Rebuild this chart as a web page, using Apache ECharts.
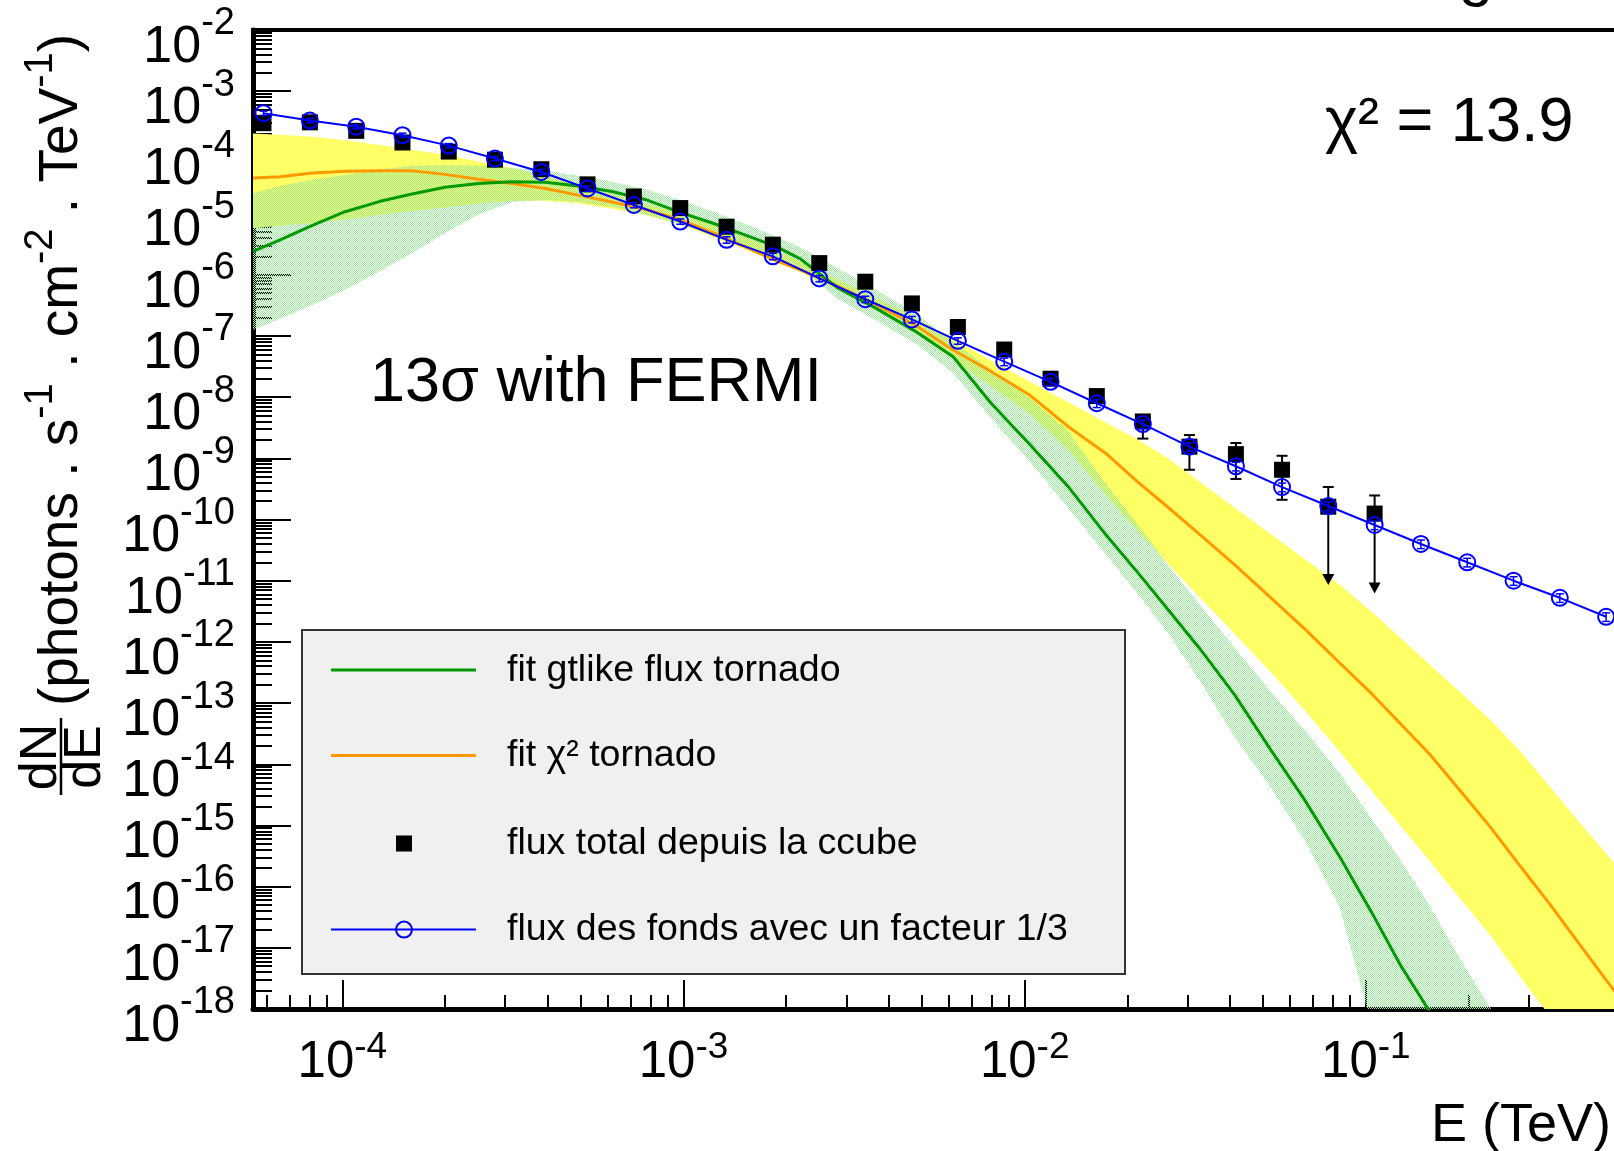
<!DOCTYPE html>
<html><head><meta charset="utf-8">
<script src="https://cdn.jsdelivr.net/npm/echarts@6/dist/echarts.min.js"></script>
<style>html,body{margin:0;padding:0;background:#fff;}#c{width:1614px;height:1151px;}</style>
</head><body><div id="c"></div>
<script>
// ---------------- data ----------------
const pointE = [5.87e-5, 8.03e-5, 1.098e-4, 1.500e-4, 2.05e-4, 2.80e-4, 3.83e-4, 5.23e-4, 7.15e-4, 9.78e-4,
  1.337e-3, 1.827e-3, 2.50e-3, 3.41e-3, 4.67e-3, 6.37e-3, 8.71e-3, 1.191e-2, 1.627e-2, 2.22e-2,
  3.04e-2, 4.16e-2, 5.68e-2, 7.76e-2, 0.1061, 0.1450, 0.1982, 0.2710, 0.3703, 0.5062];
const bkgFlux = [4.37e-4, 3.31e-4, 2.63e-4, 1.91e-4, 1.29e-4, 7.94e-5, 4.79e-5, 2.57e-5, 1.38e-5, 7.41e-6,
  3.72e-6, 2.00e-6, 8.71e-7, 3.98e-7, 1.86e-7, 8.32e-8, 3.80e-8, 1.78e-8, 7.94e-9, 3.63e-9,
  1.55e-9, 7.41e-10, 3.39e-10, 1.66e-10, 8.13e-11, 3.98e-11, 2.00e-11, 1.00e-11, 5.25e-12, 2.57e-12];
const bkgRelErr = [0.08, 0.08, 0.08, 0.08, 0.08, 0.08, 0.1, 0.1, 0.1, 0.1,
  0.12, 0.12, 0.12, 0.12, 0.12, 0.12, 0.14, 0.14, 0.15, 0.16,
  0.16, 0.16, 0.16, 0.16, 0.16, 0.16, 0.16, 0.16, 0.16, 0.16];
const totalFlux = [3.0e-4, 3.1e-4, 2.25e-4, 1.45e-4, 1.03e-4, 7.6e-5, 5.3e-5, 3.0e-5, 1.9e-5, 1.23e-5,
  6.1e-6, 3.1e-6, 1.55e-6, 7.7e-7, 3.4e-7, 1.40e-7, 6.0e-8, 2.0e-8, 1.04e-8, 4.0e-9,
  1.55e-9, 1.17e-9, 6.5e-10, 1.62e-10, 1.25e-10];
const totalErrHi = [null, null, null, null, null, null, null, null, null, null,
  null, null, null, null, null, null, null, null, null, 4.8e-9,
  2.4e-9, 1.78e-9, 1.1e-9, 3.4e-10, 2.47e-10];
const totalErrLo = [null, null, null, null, null, null, null, null, null, null,
  null, null, null, null, null, null, null, null, null, 2.1e-9,
  6.5e-10, 4.6e-10, 2.1e-10, 8.5e-12, 6.2e-12];
const totalUpperLimit = [false, false, false, false, false, false, false, false, false, false,
  false, false, false, false, false, false, false, false, false, false,
  false, false, false, true, true];

const curveE = [5.47e-5, 6.57e-5, 8.04e-5, 1.018e-4, 1.29e-4, 1.60e-4, 2.00e-4, 2.50e-4, 3.14e-4, 3.93e-4,
  4.91e-4, 6.17e-4, 7.72e-4, 9.77e-4, 1.238e-3, 1.568e-3, 1.87e-3, 2.20e-3, 2.84e-3, 3.67e-3,
  4.77e-3, 6.17e-3, 7.97e-3, 1.037e-2, 1.34e-2, 1.73e-2, 2.14e-2, 2.63e-2, 3.27e-2, 4.13e-2,
  5.24e-2, 6.63e-2, 8.40e-2, 0.1042, 0.1259, 0.1542, 0.1888, 0.2312, 0.2830, 0.3466,
  0.4243, 0.534, 0.68];
const gtlikeFit = [2.40e-6, 3.72e-6, 6.17e-6, 1.072e-5, 1.585e-5, 2.09e-5, 2.69e-5, 3.09e-5, 3.31e-5, 3.24e-5,
  2.82e-5, 2.29e-5, 1.70e-5, 1.047e-5, 6.76e-6, 4.17e-6, 2.88e-6, 1.82e-6, 6.03e-7, 2.82e-7,
  1.20e-7, 4.57e-8, 7.94e-9, 1.66e-9, 3.47e-10, 5.62e-11, 1.38e-11, 3.39e-12, 7.59e-13, 1.35e-13,
  1.78e-14, 2.57e-15, 3.02e-16, 3.72e-17, 5.37e-18, 8.9e-19, null, null, null, null,
  null, null, null];
const gtlikeBandHi = [2.14e-5, 2.82e-5, 3.55e-5, 4.27e-5, 5.25e-5, 6.03e-5, 6.17e-5, 6.03e-5, 5.62e-5, 5.01e-5,
  4.17e-5, 3.31e-5, 2.51e-5, 1.66e-5, 1.047e-5, 6.31e-6, 4.17e-6, 2.82e-6, 1.26e-6, 5.62e-7,
  2.40e-7, 7.94e-8, 2.82e-8, 9.55e-9, 2.82e-9, 3.80e-10, 8.51e-11, 1.78e-11, 3.98e-12, 7.94e-13,
  1.585e-13, 3.55e-14, 7.08e-15, 1.26e-15, 2.82e-16, 4.79e-17, 6.61e-18, 1.07e-18, 1.26e-19, null,
  null, null, null];
const gtlikeBandLo = [1.26e-7, 1.905e-7, 3.09e-7, 5.62e-7, 1.148e-6, 2.24e-6, 4.79e-6, 9.55e-6, 1.55e-5, 1.66e-5,
  1.55e-5, 1.29e-5, 9.55e-6, 6.61e-6, 4.37e-6, 2.75e-6, 1.905e-6, 1.26e-6, 3.98e-7, 1.78e-7,
  7.59e-8, 2.51e-8, 4.47e-9, 8.71e-10, 1.55e-10, 2.69e-11, 6.17e-12, 1.38e-12, 2.24e-13, 2.75e-14,
  4.27e-15, 5.62e-16, 4.47e-17, 5.0e-19, null, null, null, null, null, null,
  null, null, null];
const chi2Fit = [3.80e-5, 3.98e-5, 4.57e-5, 4.90e-5, 5.01e-5, 5.01e-5, 4.37e-5, 3.63e-5, 3.09e-5, 2.57e-5,
  2.00e-5, 1.55e-5, 1.175e-5, 7.94e-6, 4.68e-6, 2.63e-6, 1.70e-6, 1.20e-6, 6.46e-7, 3.24e-7,
  1.51e-7, 5.89e-8, 2.63e-8, 1.07e-8, 3.31e-9, 1.20e-9, 4.17e-10, 1.585e-10, 5.62e-11, 1.82e-11,
  5.37e-12, 1.62e-12, 4.47e-13, 1.41e-13, 4.68e-14, 1.445e-14, 3.72e-15, 9.55e-16, 2.19e-16, 5.13e-17,
  1.12e-17, 2.0e-18, 4.0e-19];
const chi2BandHi = [2.04e-4, 1.95e-4, 1.82e-4, 1.585e-4, 1.32e-4, 1.10e-4, 9.12e-5, 7.08e-5, 5.50e-5, 4.07e-5,
  2.95e-5, 2.09e-5, 1.48e-5, 1.02e-5, 6.31e-6, 3.80e-6, 2.51e-6, 1.66e-6, 8.32e-7, 4.17e-7,
  2.00e-7, 8.91e-8, 3.98e-8, 1.78e-8, 8.32e-9, 3.80e-9, 2.04e-9, 1.00e-9, 4.07e-10, 1.55e-10,
  5.89e-11, 2.24e-11, 8.51e-12, 3.09e-12, 1.175e-12, 4.17e-13, 1.51e-13, 5.37e-14, 1.66e-14, 4.27e-15,
  1.10e-15, 2.45e-16, 5.01e-17];
const chi2BandLo = [5.75e-6, 6.31e-6, 6.92e-6, 7.94e-6, 9.55e-6, 1.10e-5, 1.26e-5, 1.445e-5, 1.62e-5, 1.62e-5,
  1.48e-5, 1.20e-5, 9.55e-6, 6.61e-6, 3.98e-6, 2.40e-6, 1.585e-6, 1.10e-6, 5.62e-7, 2.63e-7,
  1.12e-7, 4.17e-8, 1.51e-8, 5.25e-9, 1.41e-9, 2.51e-10, 6.61e-11, 1.905e-11, 5.25e-12, 1.35e-12,
  3.31e-13, 7.59e-14, 1.585e-14, 3.63e-15, 1.02e-15, 2.57e-16, 6.46e-17, 1.62e-17, 3.39e-18, 7.6e-19,
  1.6e-19, 3.2e-20, 6.3e-21];

const xLabelValues = [1e-4, 1e-3, 1e-2, 1e-1];
const yLabelValuesEven = [1e-18, 1e-16, 1e-14, 1e-12, 1e-10, 1e-8, 1e-6, 1e-4, 1e-2];
const yLabelValuesOdd = [1e-17, 1e-15, 1e-13, 1e-11, 1e-9, 1e-7, 1e-5, 1e-3];
const X_MIN = 5.47e-5, X_MAX = 1.0, Y_MIN = 1e-18, Y_MAX = 1e-2;

// ---------------- helpers ----------------
const FONT = '"Liberation Sans", Arial, Helvetica, sans-serif';
const xMajor = [1e-4, 1e-3, 1e-2, 1e-1, 1];
const yMajor = yLabelValuesEven.concat(yLabelValuesOdd);
const xMinor = [];
for (let d = -5; d <= -1; d++) for (let k = 2; k <= 9; k++) { const v = k * Math.pow(10, d); if (v > X_MIN && v < X_MAX) xMinor.push(v); }
const yMinor = [];
for (let d = -18; d <= -3; d++) for (let k = 2; k <= 9; k++) yMinor.push(k * Math.pow(10, d));

function expLabel(v) { return '{b|10}{s|' + Math.round(Math.log10(v)) + '}'; }
function richFor(bSize, sSize, bPad, sPad, lh) {
  const b = { fontSize: bSize, fontFamily: FONT, color: '#000', padding: [bPad, 0, 0, 0], verticalAlign: 'middle' };
  const s = { fontSize: sSize, fontFamily: FONT, color: '#000', padding: [0, 0, sPad, 0], verticalAlign: 'middle' };
  if (lh) { b.lineHeight = lh; s.lineHeight = lh; }
  return { b: b, s: s };
}
const yRich = richFor(52, 38, 35, 12, 40);

// green dotted pattern
const pat = document.createElement('canvas');
pat.width = 2; pat.height = 2;
(function () { const c = pat.getContext('2d'); c.fillStyle = 'rgb(150,236,150)'; c.fillRect(0, 0, 1, 1); c.fillRect(1, 1, 1, 1); })();

function bandSeries(name, hi, lo, fill, z) {
  return {
    type: 'custom', name: name, z: z, silent: true, clip: true,
    xAxisIndex: 0, yAxisIndex: 0,
    data: [[curveE[0], hi[0]]],
    renderItem: function (params, api) {
      const pts = [];
      for (let i = 0; i < curveE.length; i++) if (hi[i] != null) pts.push(api.coord([curveE[i], hi[i]]));
      for (let i = curveE.length - 1; i >= 0; i--) if (lo[i] != null) pts.push(api.coord([curveE[i], lo[i]]));
      const cs = params.coordSys;
      return {
        type: 'polygon', shape: { points: pts }, style: { fill: fill, stroke: null, lineWidth: 0 },
        clipPath: { type: 'rect', shape: { x: cs.x, y: cs.y, width: cs.width, height: cs.height } }
      };
    }
  };
}

const totalErrData = [];
for (let i = 0; i < totalFlux.length; i++) if (totalErrHi[i] != null) totalErrData.push([pointE[i], totalErrHi[i], totalErrLo[i], totalUpperLimit[i] ? 1 : 0]);
const bkgErrData = bkgFlux.map((v, i) => [pointE[i], v * (1 + bkgRelErr[i]), v * (1 - bkgRelErr[i]), 0]);

function errRender(color, cap, lw) {
  return function (params, api) {
    const e = api.value(0), hi = api.value(1), lo = api.value(2), lim = api.value(3);
    const t = api.coord([e, hi]), b = api.coord([e, lo]);
    const x = t[0];
    const ch = [];
    const yEnd = lim ? b[1] - 10 : b[1];
    ch.push({ type: 'line', shape: { x1: x, y1: t[1], x2: x, y2: yEnd }, style: { stroke: color, lineWidth: lw } });
    ch.push({ type: 'line', shape: { x1: x - cap, y1: t[1], x2: x + cap, y2: t[1] }, style: { stroke: color, lineWidth: lw } });
    if (lim) {
      ch.push({ type: 'polygon', shape: { points: [[x - 6, b[1] - 11], [x + 6, b[1] - 11], [x, b[1]]] }, style: { fill: color } });
    } else {
      ch.push({ type: 'line', shape: { x1: x - cap, y1: b[1], x2: x + cap, y2: b[1] }, style: { stroke: color, lineWidth: lw } });
    }
    return { type: 'group', children: ch };
  };
}

// ---------------- chart ----------------
const chart = echarts.init(document.getElementById('c'), null, { renderer: 'canvas' });
const gridPos = { left: 253, top: 30, right: -93, bottom: 142 };
const option = {
  animation: false,
  backgroundColor: '#ffffff',
  textStyle: { fontFamily: FONT },
  grid: [
    Object.assign({ show: true, borderColor: '#000', borderWidth: 4, backgroundColor: 'transparent', containLabel: false, outerBoundsMode: 'none' }, gridPos),
    Object.assign({ show: false, containLabel: false, outerBoundsMode: 'none' }, gridPos)
  ],
  xAxis: [
    {
      type: 'log', logBase: 10, gridIndex: 0, min: X_MIN, max: X_MAX, position: 'bottom',
      axisLine: { show: true, lineStyle: { color: '#000', width: 5 } },
      axisTick: { show: true, inside: true, length: 29, customValues: xMajor, lineStyle: { color: '#000', width: 2 } },
      axisLabel: { show: true, customValues: xLabelValues, margin: 18, formatter: expLabel, rich: richFor(51, 37, 10, 20), hideOverlap: false },
      splitLine: { show: false }, minorTick: { show: false }, minorSplitLine: { show: false }
    },
    {
      type: 'log', logBase: 10, gridIndex: 1, min: X_MIN, max: X_MAX, position: 'bottom',
      axisLine: { show: false },
      axisTick: { show: true, inside: true, length: 14, customValues: xMinor, lineStyle: { color: '#000', width: 2 } },
      axisLabel: { show: false }, splitLine: { show: false }
    }
  ],
  yAxis: [
    {
      type: 'log', logBase: 10, gridIndex: 0, min: Y_MIN, max: Y_MAX, position: 'left',
      axisLine: { show: true, lineStyle: { color: '#000', width: 5 } },
      axisTick: { show: true, inside: true, length: 38, customValues: yMajor, lineStyle: { color: '#000', width: 2 } },
      axisLabel: { show: true, customValues: yLabelValuesEven, margin: 18, formatter: expLabel, rich: yRich,
        showMinLabel: true, showMaxLabel: true, hideOverlap: false },
      splitLine: { show: false }, minorTick: { show: false }
    },
    {
      type: 'log', logBase: 10, gridIndex: 1, min: Y_MIN, max: Y_MAX, position: 'left',
      axisLine: { show: false },
      axisTick: { show: true, inside: true, length: 19, customValues: yMinor, lineStyle: { color: '#000', width: 2 } },
      axisLabel: { show: true, customValues: yLabelValuesOdd, margin: 18, formatter: expLabel, rich: yRich,
        showMinLabel: true, showMaxLabel: true, hideOverlap: false },
      splitLine: { show: false }
    }
  ],
  series: [
    bandSeries('chi2 band', chi2BandHi, chi2BandLo, '#ffff66', 1),
    bandSeries('gtlike band', gtlikeBandHi, gtlikeBandLo, { image: pat, repeat: 'repeat' }, 2),
    {
      type: 'line', name: 'fit χ2 tornado', z: 3, silent: true, clip: true, showSymbol: false, symbol: 'none',
      data: curveE.map((e, i) => [e, chi2Fit[i]]),
      lineStyle: { color: '#ff9900', width: 3 }
    },
    {
      type: 'line', name: 'fit gtlike flux tornado', z: 4, silent: true, clip: true, showSymbol: false, symbol: 'none',
      data: curveE.map((e, i) => [e, gtlikeFit[i]]),
      lineStyle: { color: '#009a00', width: 3 }
    },
    {
      type: 'scatter', name: 'flux total depuis la ccube', z: 5, silent: true,
      symbol: 'rect', symbolSize: 16,
      data: totalFlux.map((v, i) => [pointE[i], v]),
      itemStyle: { color: '#000', opacity: 1 }
    },
    {
      type: 'custom', name: 'total err', z: 5, silent: true,
      data: totalErrData, renderItem: errRender('#000', 5.5, 2)
    },
    {
      type: 'line', name: 'flux des fonds avec un facteur 1/3', z: 6, silent: true,
      symbol: 'circle', symbolSize: 16, showSymbol: true, showAllSymbol: true,
      data: bkgFlux.map((v, i) => [pointE[i], v]),
      lineStyle: { color: '#0000ff', width: 2 },
      itemStyle: { color: 'rgba(0,0,0,0)', borderColor: '#0000ff', borderWidth: 2 }
    },
    {
      type: 'custom', name: 'bkg err', z: 7, silent: true,
      data: bkgErrData, renderItem: errRender('#0000ff', 4, 1.5)
    }
  ],
  graphic: [
    // cut title fragment
    { type: 'text', x: 1476, y: -23, z: 50, style: { text: 'g', font: '62px ' + FONT, fill: '#000', align: 'center', verticalAlign: 'middle' } },
    { type: 'text', x: 1325, y: 124, z: 50, style: { text: 'χ² = 13.9', font: '63px ' + FONT, fill: '#000', align: 'left', verticalAlign: 'middle' } },
    { type: 'text', x: 370, y: 384, z: 50, style: { text: '13σ with FERMI', font: '63px ' + FONT, fill: '#000', align: 'left', verticalAlign: 'middle' } },
    { type: 'text', x: 1611, y: 1126, z: 50, style: { text: 'E (TeV)', font: '54px ' + FONT, fill: '#000', align: 'right', verticalAlign: 'middle' } },
    // y axis title
    {
      type: 'text', x: 52, y: 370, rotation: Math.PI / 2, z: 50,
      style: {
        text: '{b|(photons . s}{s|-1}{b| . cm}{s|-2}{b| . TeV}{s|-1}{b|)}',
        align: 'center', verticalAlign: 'middle',
        rich: {
          b: { fontSize: 55, fontFamily: FONT, fill: '#000', padding: [20, 0, 0, 0], verticalAlign: 'middle' },
          s: { fontSize: 40, fontFamily: FONT, fill: '#000', padding: [0, 0, 22, 0], verticalAlign: 'middle' }
        }
      }
    },
    { type: 'text', x: 42, y: 757, rotation: Math.PI / 2, z: 50, style: { text: 'dN', font: '52px ' + FONT, fill: '#000', align: 'center', verticalAlign: 'middle' } },
    { type: 'line', z: 50, shape: { x1: 61, y1: 718, x2: 61, y2: 795 }, style: { stroke: '#000', lineWidth: 2.5 } },
    { type: 'text', x: 86, y: 757, rotation: Math.PI / 2, z: 50, style: { text: 'dE', font: '52px ' + FONT, fill: '#000', align: 'center', verticalAlign: 'middle' } },
    // legend
    { type: 'rect', z: 60, shape: { x: 302, y: 630, width: 823, height: 344 }, style: { fill: '#f0f0f0', stroke: '#333', lineWidth: 2 } },
    { type: 'line', z: 61, shape: { x1: 331, y1: 670, x2: 476, y2: 670 }, style: { stroke: '#009a00', lineWidth: 3 } },
    { type: 'line', z: 61, shape: { x1: 331, y1: 755.5, x2: 476, y2: 755.5 }, style: { stroke: '#ff9900', lineWidth: 3 } },
    { type: 'rect', z: 61, shape: { x: 396, y: 835.5, width: 16, height: 16 }, style: { fill: '#000' } },
    { type: 'line', z: 61, shape: { x1: 331, y1: 929.6, x2: 476, y2: 929.6 }, style: { stroke: '#0000ff', lineWidth: 2 } },
    { type: 'circle', z: 62, shape: { cx: 404, cy: 929.6, r: 8 }, style: { fill: 'none', stroke: '#0000ff', lineWidth: 2 } },
    { type: 'text', z: 61, x: 507, y: 671, style: { text: 'fit gtlike flux tornado', font: '37.5px ' + FONT, fill: '#000', align: 'left', verticalAlign: 'middle' } },
    { type: 'text', z: 61, x: 507, y: 756, style: { text: 'fit χ² tornado', font: '37.5px ' + FONT, fill: '#000', align: 'left', verticalAlign: 'middle' } },
    { type: 'text', z: 61, x: 507, y: 844, style: { text: 'flux total depuis la ccube', font: '37.5px ' + FONT, fill: '#000', align: 'left', verticalAlign: 'middle' } },
    { type: 'text', z: 61, x: 507, y: 930, style: { text: 'flux des fonds avec un facteur 1/3', font: '37.5px ' + FONT, fill: '#000', align: 'left', verticalAlign: 'middle' } }
  ]
};
chart.setOption(option);
</script>
</body></html>
